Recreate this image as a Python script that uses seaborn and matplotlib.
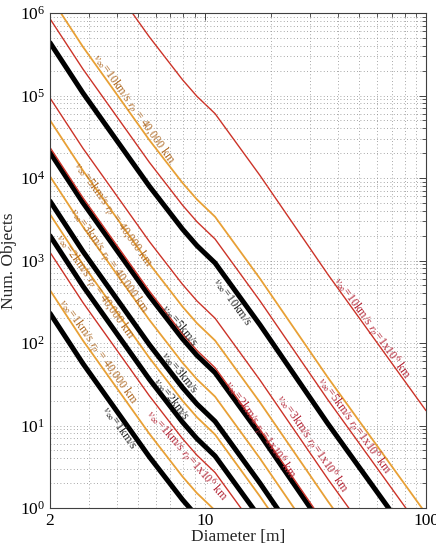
import numpy as np
import matplotlib
matplotlib.use("Agg")
import matplotlib.pyplot as plt
import seaborn as sns
from matplotlib.ticker import FixedLocator, NullFormatter, LogLocator, LogFormatterSciNotation

# ============================================================
# Data
# ============================================================

# diameter nodes [m]
diameter = [2.0, 2.818, 5.623, 7.943, 9.226, 11.14, 17.78, 36.06, 100.0]

# log10(number of objects) at each diameter node
# black: v_inf only, orange: r_p = 40,000 km, red: r_p = 1e6 km
black_v1 = [2.36, 1.75, 0.62, 0.10, -0.10, -0.31, -1.06, -2.26, -3.91]
black_v2 = [3.30, 2.69, 1.56, 1.04, 0.84, 0.63, -0.12, -1.32, -2.97]
black_v3 = [3.72, 3.11, 1.98, 1.46, 1.26, 1.05, 0.30, -0.90, -2.55]
black_v5 = [4.31, 3.70, 2.57, 2.05, 1.85, 1.64, 0.89, -0.31, -1.96]
black_v10 = [5.64, 5.03, 3.90, 3.38, 3.18, 2.97, 2.22, 1.02, -0.63]

orange_v1 = [2.64, 2.03, 0.90, 0.38, 0.18, -0.03, -0.78, -1.98, -3.63]
orange_v2 = [3.56, 2.95, 1.82, 1.30, 1.10, 0.89, 0.14, -1.06, -2.71]
orange_v3 = [4.02, 3.41, 2.28, 1.76, 1.56, 1.35, 0.60, -0.60, -2.25]
orange_v5 = [4.70, 4.09, 2.96, 2.44, 2.24, 2.03, 1.28, 0.08, -1.57]
orange_v10 = [6.20, 5.59, 4.46, 3.94, 3.74, 3.53, 2.78, 1.58, -0.07]

red_v1 = [3.10, 2.49, 1.36, 0.84, 0.64, 0.43, -0.32, -1.52, -3.17]
red_v2 = [4.37, 3.76, 2.63, 2.11, 1.91, 1.70, 0.95, -0.25, -1.90]
red_v3 = [4.97, 4.36, 3.23, 2.71, 2.51, 2.30, 1.55, 0.35, -1.30]
red_v5 = [5.93, 5.32, 4.19, 3.67, 3.47, 3.26, 2.51, 1.31, -0.34]
red_v10 = [7.45, 6.84, 5.71, 5.19, 4.99, 4.78, 4.03, 2.83, 1.18]

velocities = ["1", "2", "3", "5", "10"]
black_curves = [black_v1, black_v2, black_v3, black_v5, black_v10]
orange_curves = [orange_v1, orange_v2, orange_v3, orange_v5, orange_v10]
red_curves = [red_v1, red_v2, red_v3, red_v5, red_v10]

# label anchor diameters [m] and side shifts [dex]
black_label_d = [4.14, 7.1, 7.7, 7.7, 13.4]
black_label_shift = [-0.14, 0.12, 0.14, 0.12, -0.17]
orange_label_d = [3.3, 3.2, 3.68, 3.85, 4.75]
orange_label_shift = [0.12, -0.06, 0.02, -0.02, 0.10]
red_label_d = [8.3, 17.8, 30.5, 47.0, 57.0]
red_label_shift = [-0.15, 0.0, 0.15, 0.12, 0.09]

# ============================================================
# Style
# ============================================================

BLACK = "#000000"
ORANGE = "#E8A035"
RED = "#CC3328"
BLACK_TXT = "#2a2a2a"
ORANGE_TXT = "#B06C28"
RED_TXT = "#B52A3A"

sns.set_style("white")
plt.rcParams["font.family"] = ["Liberation Serif", "DejaVu Serif"]
plt.rcParams["mathtext.fontset"] = "stix"

fig = plt.figure(figsize=(4.36, 5.52), dpi=100)
ax = fig.add_axes([50 / 436, 44 / 552, 376 / 436, 495 / 552])
ax.set_xscale("log")
ax.set_yscale("log")
ax.set_xlim(2, 100)
ax.set_ylim(1, 1e6)

# ============================================================
# Curves
# ============================================================

for curve in black_curves:
    sns.lineplot(x=diameter, y=10 ** np.array(curve), ax=ax,
                 color=BLACK, linewidth=3.6, sort=False)
for curve in orange_curves:
    sns.lineplot(x=diameter, y=10 ** np.array(curve), ax=ax,
                 color=ORANGE, linewidth=1.3, sort=False)
for curve in red_curves:
    sns.lineplot(x=diameter, y=10 ** np.array(curve), ax=ax,
                 color=RED, linewidth=1.0, sort=False)

ax.set_xlim(2, 100)
ax.set_ylim(1, 1e6)

# ============================================================
# Inline labels
# ============================================================

log_d = np.log10(diameter)


def put_label(d, curve, shift, text, color):
    x0 = np.log10(d)
    y0 = np.interp(x0, log_d, curve) + shift
    y1 = np.interp(x0 + 0.02, log_d, curve) + shift
    p0 = ax.transData.transform((10 ** x0, 10 ** y0))
    p1 = ax.transData.transform((10 ** (x0 + 0.02), 10 ** y1))
    ang = np.degrees(np.arctan2(p1[1] - p0[1], p1[0] - p0[0]))
    ax.text(10 ** x0, 10 ** y0, text, rotation=ang, rotation_mode="anchor",
            ha="center", va="center", color=color, fontsize=8.6)


for i, v in enumerate(velocities):
    put_label(black_label_d[i], black_curves[i], black_label_shift[i],
              r"$v_\infty$=" + v + "km/s", BLACK_TXT)
    put_label(orange_label_d[i], orange_curves[i], orange_label_shift[i],
              r"$v_\infty$=" + v + r"km/s $r_p$ = 40,000 km", ORANGE_TXT)
    put_label(red_label_d[i], red_curves[i], red_label_shift[i],
              r"$v_\infty$=" + v + r"km/s $r_p$=1x10$^6$ km", RED_TXT)

# ============================================================
# Axes, ticks, grid
# ============================================================

ax.xaxis.set_major_locator(FixedLocator([2, 10, 100]))
ax.set_xticklabels(["2", "10", "100"])
ax.xaxis.set_minor_locator(FixedLocator([3, 4, 5, 6, 7, 8, 9, 20, 30, 40, 50, 60, 70, 80, 90]))
ax.xaxis.set_minor_formatter(NullFormatter())
ax.yaxis.set_major_locator(LogLocator(base=10, numticks=10))
ax.yaxis.set_major_formatter(LogFormatterSciNotation())
ax.yaxis.set_minor_locator(LogLocator(base=10, subs=np.arange(2, 10), numticks=20))
ax.yaxis.set_minor_formatter(NullFormatter())

ax.tick_params(which="both", direction="in", top=True, right=True,
               colors="#404040", labelcolor="black", labelsize=12.5)
ax.tick_params(which="major", length=5, width=0.7)
ax.tick_params(which="minor", length=3, width=0.6)

ax.grid(which="both", color="#8a8a8a", linestyle=(0, (1, 3)), linewidth=0.6)
for sp in ax.spines.values():
    sp.set_color("#404040")
    sp.set_linewidth(0.8)

ax.set_xlabel("Diameter [m]", fontsize=12.5, labelpad=0)
ax.set_ylabel("Num. Objects", fontsize=12.5, labelpad=2)

fig.savefig("out.png", dpi=100)
plt.close(fig)
